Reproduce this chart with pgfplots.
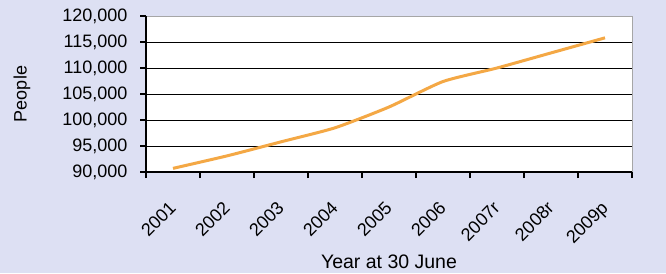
\documentclass[border=0pt]{standalone}
\usepackage{pgfplots}
\pgfplotsset{compat=1.18}
\usepackage{fontspec}
\setmainfont{Liberation Sans}
\definecolor{bgc}{HTML}{DDE0F3}
\definecolor{linec}{HTML}{F4A845}
\begin{document}
\begin{tikzpicture}
\path[use as bounding box, fill=bgc] (0,0) rectangle (666pt,273pt);
\begin{axis}[
  at={(146pt,101pt)}, anchor=south west,
  scale only axis, width=486pt, height=156pt,
  axis background/.style={fill=white},
  xmin=-0.5, xmax=8.5, ymin=90000, ymax=120000,
  xtick={0,...,8},
  xticklabels={2001,2002,2003,2004,2005,2006,2007r,2008r,2009p},
  minor xtick={-0.5,0.5,...,8.5},
  major x tick style={draw=none},
  minor x tick style={black, line width=1.2pt},
  minor tick length=6pt,
  ytick={90000,95000,100000,105000,110000,115000,120000},
  yticklabels={{90,000},{95,000},{100,000},{105,000},{110,000},{115,000},{120,000}},
  scaled y ticks=false,
  major tick length=6pt,
  y tick style={black, line width=1.2pt},
  tick align=outside,
  xtick pos=bottom, ytick pos=left,
  ymajorgrids, grid style={black, line width=1pt},
  axis line style={draw=none},
  yticklabel style={font=\fontsize{18}{18}\selectfont, text=black, xshift=-9pt},
  xticklabel style={font=\fontsize{18}{18}\selectfont, text=black, rotate=45, anchor=north east, xshift=-16pt, yshift=-9pt},
  xlabel={Year at 30 June},
  ylabel={People},
  xlabel style={font=\fontsize{19.5}{19.5}\selectfont, at={(axis description cs:0.5,-0.577)}, anchor=center},
  ylabel style={font=\fontsize{18}{18}\selectfont, at={(axis description cs:-0.255,0.5)}, anchor=center},
  clip=false,
]
\draw[gray!70, line width=0.8pt] (rel axis cs:0,1) -- (rel axis cs:1,1) -- (rel axis cs:1,0);
\draw[black, line width=1.5pt] (rel axis cs:0,1) -- (rel axis cs:0,0) -- (rel axis cs:1,0);
\addplot[linec, line width=3pt, smooth, tension=0.35] coordinates {
(0,90700) (1,93100) (2,95800) (3,98500) (4,102500) (5,107400) (6,110000) (7,112900) (8,115800)
};
\end{axis}
\end{tikzpicture}
\end{document}
